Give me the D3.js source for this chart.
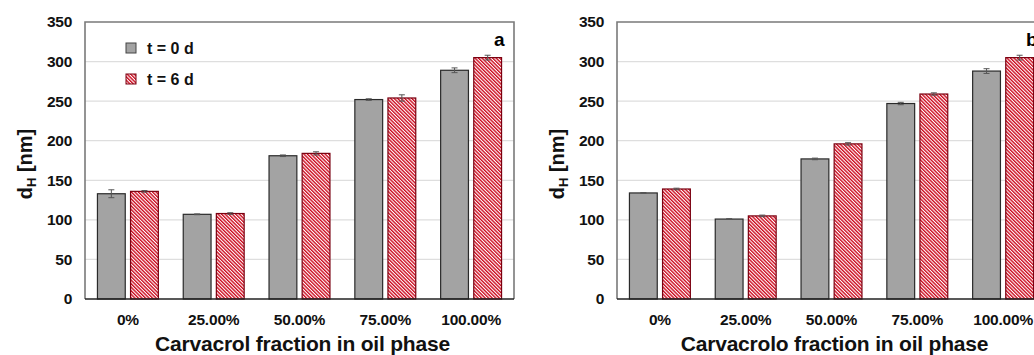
<!DOCTYPE html>
<html>
<head>
<meta charset="utf-8">
<script src="https://cdn.jsdelivr.net/npm/d3@7"></script>
<style>
  body { margin: 0; background: #fff; }
  svg { display: block; font-family: "Liberation Sans", Arial, sans-serif; }
</style>
</head>
<body>
<div id="chart"></div>
<script>
// categories and tick values
const categories = ["0%", "25.00%", "50.00%", "75.00%", "100.00%"];
const seriesNames = ["t = 0 d", "t = 6 d"];
const yTicks = [0, 50, 100, 150, 200, 250, 300, 350];

// panel a
const aDay0 = [133, 107, 181, 252, 289];
const aDay0Err = [5, 0.5, 1, 1, 3];
const aDay6 = [136, 108, 184, 254, 305];
const aDay6Err = [1, 1, 2, 4, 3];

// panel b
const bDay0 = [134, 101, 177, 247, 288];
const bDay0Err = [0.5, 0.5, 1, 1.5, 3];
const bDay6 = [139, 105, 196, 259, 305];
const bDay6Err = [1, 1, 1.5, 1.5, 3];

const W = 1034, H = 355;
const plotW = 429, plotTop = 22, plotBottom = 299;

const svg = d3.select("#chart").append("svg")
  .attr("width", W).attr("height", H);

const defs = svg.append("defs");
const pat = defs.append("pattern")
  .attr("id", "hatch")
  .attr("patternUnits", "userSpaceOnUse")
  .attr("width", 2.5).attr("height", 2.5)
  .attr("patternTransform", "rotate(-45)");
pat.append("rect").attr("width", 2.5).attr("height", 2.5).attr("fill", "#fff");
pat.append("rect").attr("width", 1.4).attr("height", 2.5).attr("fill", "#cc0a1e");

const y = d3.scaleLinear().domain([0, 350]).range([plotBottom, plotTop]);

function drawPanel(left, day0, day0Err, day6, day6Err, title, letter, legend) {
  const g = svg.append("g").attr("transform", `translate(${left},0)`);

  const x = d3.scaleBand().domain(categories).range([0, plotW])
    .paddingInner(0.29).paddingOuter(0.145);
  const xs = d3.scaleBand().domain(seriesNames).range([0, x.bandwidth()])
    .paddingInner(0.16);

  // gridlines
  g.append("g").selectAll("line").data(yTicks.filter(d => d > 0 && d < 350)).join("line")
    .attr("x1", 0).attr("x2", plotW)
    .attr("y1", d => y(d)).attr("y2", d => y(d))
    .attr("stroke", "#dedede").attr("stroke-width", 1.3);

  // frame
  g.append("path")
    .attr("d", `M0,${plotBottom}V${plotTop}H${plotW}V${plotBottom}`)
    .attr("fill", "none").attr("stroke", "#7a7a7a").attr("stroke-width", 1.6);

  const rows = categories.map((c, i) => ({
    cat: c,
    vals: [
      { s: seriesNames[0], v: day0[i], e: day0Err[i] },
      { s: seriesNames[1], v: day6[i], e: day6Err[i] }
    ]
  }));

  const grp = g.selectAll(".grp").data(rows).join("g")
    .attr("transform", d => `translate(${x(d.cat)},0)`);

  grp.selectAll("rect").data(d => d.vals).join("rect")
    .attr("x", d => xs(d.s))
    .attr("y", d => y(d.v))
    .attr("width", xs.bandwidth())
    .attr("height", d => y(0) - y(d.v))
    .attr("fill", d => d.s === seriesNames[0] ? "#a3a3a3" : "url(#hatch)")
    .attr("stroke", d => d.s === seriesNames[0] ? "#2a2a2a" : "#7a0010")
    .attr("stroke-width", 1.2);

  // error bars
  const cx = d => xs(d.s) + xs.bandwidth() / 2;
  const eb = grp.selectAll(".eb").data(d => d.vals).join("g").attr("class", "eb")
    .attr("stroke", "#555").attr("stroke-width", 1);
  eb.append("line")
    .attr("x1", cx).attr("x2", cx)
    .attr("y1", d => y(d.v + d.e)).attr("y2", d => y(d.v - d.e));
  eb.append("line")
    .attr("x1", d => cx(d) - 3).attr("x2", d => cx(d) + 3)
    .attr("y1", d => y(d.v + d.e)).attr("y2", d => y(d.v + d.e));
  eb.append("line")
    .attr("x1", d => cx(d) - 3).attr("x2", d => cx(d) + 3)
    .attr("y1", d => y(d.v - d.e)).attr("y2", d => y(d.v - d.e));

  // x axis line
  g.append("line").attr("x1", 0).attr("x2", plotW)
    .attr("y1", plotBottom).attr("y2", plotBottom)
    .attr("stroke", "#222").attr("stroke-width", 1.6);

  // y tick labels
  const yAxis = g.append("g").call(d3.axisLeft(y).tickValues(yTicks).tickSize(0).tickPadding(13));
  yAxis.select(".domain").remove();
  yAxis.selectAll("text")
    .attr("font-family", "Liberation Sans, Arial, sans-serif")
    .attr("font-size", 15.5).attr("font-weight", "bold").attr("fill", "#111")
    .attr("letter-spacing", "-0.3");

  // x tick labels
  const xAxis = g.append("g").attr("transform", `translate(0,${plotBottom})`)
    .call(d3.axisBottom(x).tickSize(0).tickPadding(15));
  xAxis.select(".domain").remove();
  xAxis.selectAll("text")
    .attr("font-family", "Liberation Sans, Arial, sans-serif")
    .attr("font-size", 15.5).attr("font-weight", "bold").attr("fill", "#111")
    .attr("letter-spacing", "-0.2");

  // x title
  g.append("text").attr("x", plotW / 2 + 3).attr("y", 351)
    .attr("text-anchor", "middle").attr("font-size", 21).attr("font-weight", "bold")
    .attr("fill", "#111").attr("letter-spacing", "-0.2")
    .text(title);

  // y title
  const yt = g.append("text")
    .attr("transform", `translate(-53,${164}) rotate(-90)`)
    .attr("text-anchor", "middle").attr("font-size", 20).attr("font-weight", "bold")
    .attr("fill", "#111");
  yt.append("tspan").text("d");
  yt.append("tspan").attr("font-size", 13).attr("dy", 4).text("H");
  yt.append("tspan").attr("dy", -4).text(" [nm]");

  // panel letter
  g.append("text").attr("x", plotW - 20).attr("y", 46)
    .attr("font-size", 19).attr("font-weight", "bold")
    .attr("fill", "#000").text(letter);

  if (legend) {
    const lg = g.append("g").attr("transform", "translate(41,0)");
    const items = lg.selectAll("g").data(seriesNames).join("g")
      .attr("transform", (d, i) => `translate(0,${43 + i * 31})`);
    items.append("rect").attr("width", 10).attr("height", 10)
      .attr("fill", (d, i) => i === 0 ? "#a3a3a3" : "url(#hatch)")
      .attr("stroke", (d, i) => i === 0 ? "#444" : "#7a0010").attr("stroke-width", 1);
    items.append("text").attr("x", 21).attr("y", 10.5)
      .attr("font-size", 16).attr("font-weight", "bold").attr("fill", "#111")
      .text(d => d);
  }
}

drawPanel(85, aDay0, aDay0Err, aDay6, aDay6Err, "Carvacrol fraction in oil phase", "a", true);
drawPanel(617, bDay0, bDay0Err, bDay6, bDay6Err, "Carvacrolo fraction in oil phase", "b", false);
</script>
</body>
</html>
